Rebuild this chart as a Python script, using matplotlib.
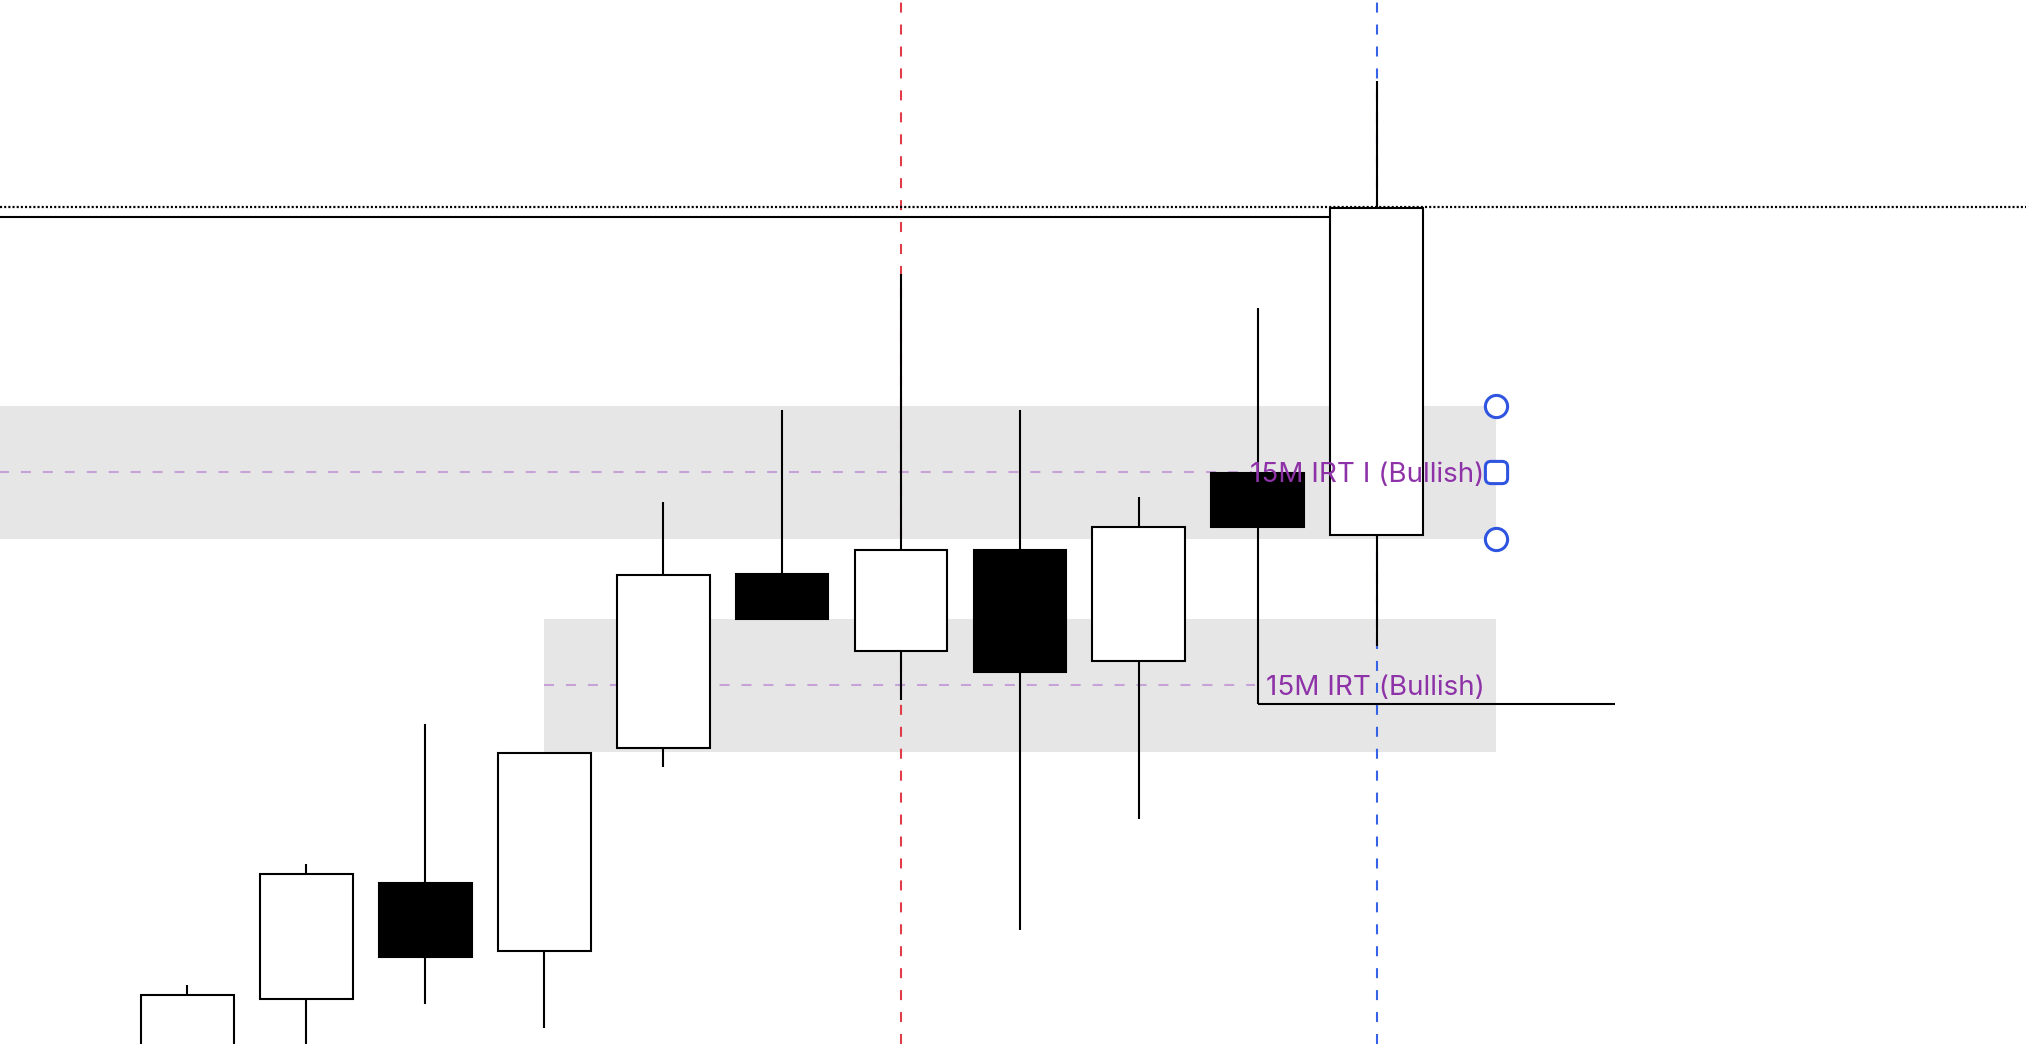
import matplotlib
matplotlib.use("Agg")
import matplotlib.pyplot as plt
from matplotlib.patches import Rectangle, FancyBboxPatch

plt.rcParams['lines.scale_dashes'] = False

# ---- data (price units) ----
opens  = [-40, 45, 161, 93, 296, 470, 393, 494, 383, 571, 509]
closes = [49, 170, 87, 291, 469, 425, 494, 372, 517, 517, 836]
highs  = [59, 180, 320, 291, 542, 634, 770, 634, 547, 736, 963]
lows   = [-60, -30, 40, 16, 277, 425, 344, 114, 225, 340, 398]

dotted_level = 837
solid_level = 827
upper_zone = (505, 638)
upper_mid = 572
lower_zone = (292, 425)
lower_mid = 359
low_line_level = 340
upper_label = "15M IRT I (Bullish)"
lower_label = "15M IRT (Bullish)"
red_marker_idx = 6
blue_marker_idx = 10

# ---- figure ----
fig = plt.figure(figsize=(20.26, 10.44), dpi=100)
ax = fig.add_axes([0, 0, 1, 1])
ax.set_xlim(-1.576, 15.46)
ax.set_ylim(0, 1044)
ax.axis('off')

lw = 1.5
bw = 0.78

# zones
ax.add_patch(Rectangle((-2, upper_zone[0]), 13, upper_zone[1] - upper_zone[0],
                       facecolor='#e6e6e6', edgecolor='none', zorder=0))
ax.add_patch(Rectangle((3.0, lower_zone[0]), 8.0, lower_zone[1] - lower_zone[0],
                       facecolor='#e6e6e6', edgecolor='none', zorder=0))

# zone mid lines
purple_dash = (0, (7.2, 8.6))
ax.plot([-2, 8.95], [upper_mid, upper_mid], color='#c6a2d8', lw=1.5,
        linestyle=purple_dash, zorder=1)
ax.plot([3.0, 8.98], [lower_mid, lower_mid], color='#c6a2d8', lw=1.5,
        linestyle=purple_dash, zorder=1)

# vertical markers
ax.axvline(red_marker_idx, color='#e23b4a', lw=1.5, linestyle=(0, (7.2, 8.6)), zorder=1)
ax.axvline(blue_marker_idx, color='#3562e6', lw=1.5, linestyle=(0, (7.2, 8.6)), zorder=1)

# horizontal levels
ax.axhline(dotted_level, color='black', lw=1.6, linestyle=(0, (1.5, 1.5)), zorder=2)
ax.plot([-2, blue_marker_idx - bw / 2], [solid_level, solid_level], color='black', lw=lw, zorder=2)
ax.plot([9, 12], [low_line_level, low_line_level], color='black', lw=lw, zorder=2,
        solid_capstyle='butt')

# candles
for i, (o, h, l, c) in enumerate(zip(opens, highs, lows, closes)):
    ax.plot([i, i], [l, h], color='black', lw=lw, zorder=3, solid_capstyle='butt')
    bull = c >= o
    ax.add_patch(Rectangle((i - bw / 2, min(o, c)), bw, abs(c - o),
                           facecolor='white' if bull else 'black',
                           edgecolor='black', lw=lw, zorder=4))

# labels
ax.text(10.905, upper_mid, upper_label, ha='right', va='center_baseline', color='#8e32a8',
        fontsize=20, family=['Inter', 'DejaVu Sans'], zorder=5)
ax.text(10.905, lower_mid, lower_label, ha='right', va='center_baseline', color='#8e32a8',
        fontsize=20, family=['Inter', 'DejaVu Sans'], zorder=5)

# handles
ax.plot([11, 11], [upper_zone[1], upper_zone[0]], linestyle='none', marker='o',
        markersize=16, markerfacecolor='white', markeredgecolor='#2f55e0',
        markeredgewidth=2.2, zorder=6)
rsq = FancyBboxPatch((-0.5, -0.5), 1, 1, boxstyle="round,pad=0,rounding_size=0.25").get_path()
ax.plot([11], [upper_mid], linestyle='none', marker=rsq, markersize=16,
        markerfacecolor='white', markeredgecolor='#2f55e0', markeredgewidth=2.2, zorder=6)

fig.savefig('out.png', dpi=100)
